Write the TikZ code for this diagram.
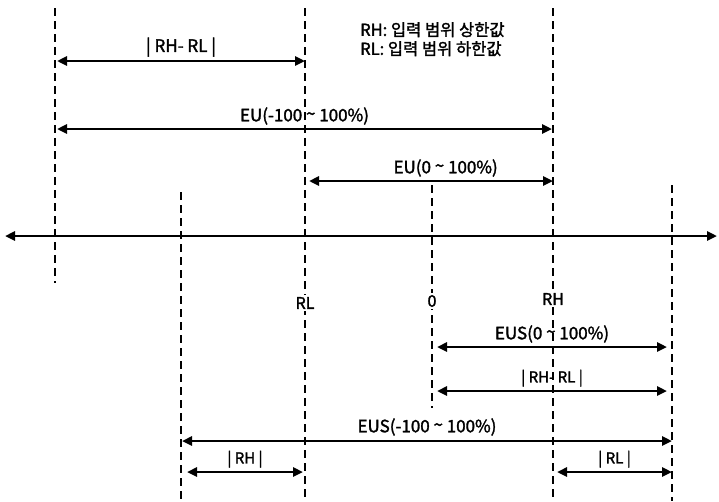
\documentclass[tikz,border=0pt]{standalone}
\usepackage{fontspec}
\setmainfont{Noto Sans CJK KR}[FakeBold=1.8]
\usetikzlibrary{arrows.meta}
\tikzset{
    guide/.style={line width=2.8pt, dash pattern=on 8pt off 5pt},
    span/.style={{Triangle[length=10pt,width=9pt]}-{Triangle[length=10pt,width=9pt]}, line width=2.8pt},
    lbl/.style={font=\fontsize{17}{18}\selectfont, inner sep=1pt},
    small/.style={font=\fontsize{15}{16}\selectfont, inner sep=1pt},
    tick/.style={fill=white, font=\fontsize{16}{17}\selectfont, inner sep=2pt},
}
\newcommand{\tld}{\raisebox{0.15ex}{\textasciitilde}}
\begin{document}
\begin{tikzpicture}[x=1pt, y=-1pt]
    \useasboundingbox (0,0) rectangle (719,501);
    % dashed guide lines
    \foreach \n/\x/\t/\b in {ga/55/8/283, gb/181/192/501, gc/305/8/498, gd/432/185/408, ge/553/8/501, gf/672/185/501}{
        \coordinate (\n top) at (\x,\t);
        \coordinate (\n bot) at (\x,\b);
        \draw[guide] (\n top) -- (\n bot);
    }
    % axis
    \coordinate (axl) at (5,236);
    \coordinate (axr) at (717,236);
    \draw[span] (axl) -- (axr);
    \node[tick] (rl) at (305,303) {RL};
    \node[tick] (zero) at (432,301) {0};
    \node[tick] (rh) at (553,299) {RH};
    % legend
    \node[anchor=north west, align=left, inner sep=0pt, font=\fontsize{16.5}{19}\selectfont] (legend) at (360,22) {RH: 입력 범위 상한값\\RL: 입력 범위 하한값};
    % spans above the axis
    \coordinate (s1l) at (57,61);   \coordinate (s1r) at (305,61);
    \coordinate (s2l) at (57,129);  \coordinate (s2r) at (552,129);
    \coordinate (s3l) at (309,181); \coordinate (s3r) at (553,181);
    \draw[span] (s1l) -- node[lbl, above=2pt] {| RH- RL |} (s1r);
    \draw[span] (s2l) -- node[lbl, above=2pt] {EU(-100 \tld{} 100\%)} (s2r);
    \draw[span] (s3l) -- node[lbl, above=2pt, pos=0.56] {EU(0 \tld{} 100\%)} (s3r);
    % spans below the axis
    \coordinate (s4l) at (437,347); \coordinate (s4r) at (667,347);
    \coordinate (s5l) at (437,391); \coordinate (s5r) at (667,391);
    \coordinate (s6l) at (182,441); \coordinate (s6r) at (672,441);
    \coordinate (s7l) at (187,472); \coordinate (s7r) at (303,472);
    \coordinate (s8l) at (557,472); \coordinate (s8r) at (672,472);
    \draw[span] (s4l) -- node[lbl, above=2pt] {EUS(0 \tld{} 100\%)} (s4r);
    \draw[span] (s5l) -- node[small, above=2pt] {| RH- RL |} (s5r);
    \draw[span] (s6l) -- node[lbl, above=3pt] {EUS(-100 \tld{} 100\%)} (s6r);
    \draw[span] (s7l) -- node[small, above=2pt] {| RH |} (s7r);
    \draw[span] (s8l) -- node[small, above=2pt] {| RL |} (s8r);
\end{tikzpicture}
\end{document}
